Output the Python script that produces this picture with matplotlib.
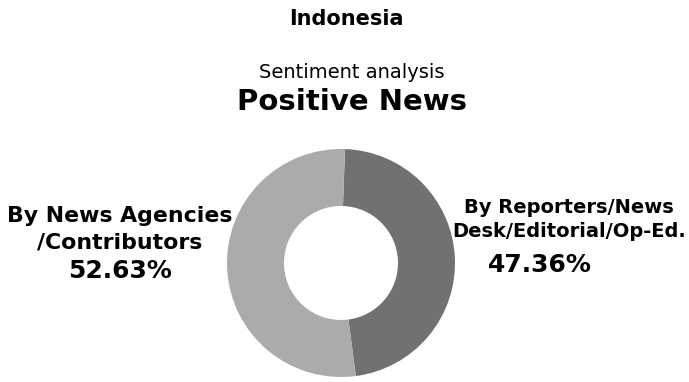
import matplotlib.pyplot as plt

# Share of positive news items by source
sources = ["By Reporters/News\nDesk/Editorial/Op-Ed.", "By News Agencies\n/Contributors"]
shares = [47.36, 52.63]
colors = ["#717171", "#ababab"]

W, H = 689, 382
fig = plt.figure(figsize=(W / 100, H / 100), dpi=100)
ax = fig.add_axes([0, 0, 1, 1])
ax.axis("off")

font = "DejaVu Sans"

ax.pie(shares, colors=colors, startangle=88, counterclock=False,
       radius=114, center=(341, H - 263),
       wedgeprops=dict(width=57, edgecolor="none"))
ax.set_xlim(0, W)
ax.set_ylim(0, H)
ax.set_aspect("equal")


def y(px):
    return H - px


ax.text(346, y(25), "Indonesia", ha="center", va="baseline",
        fontsize=15, fontweight="bold", family=font)
ax.text(352, y(78), "Sentiment analysis", ha="center", va="baseline",
        fontsize=14, family=font)
ax.text(352, y(110), "Positive News", ha="center", va="baseline",
        fontsize=21, fontweight="bold", family=font)

# Left label (news agencies)
left_lines = sources[1].split("\n")
ax.text(120, y(222), left_lines[0], ha="center", va="baseline",
        fontsize=15.8, fontweight="bold", family=font)
ax.text(120, y(249), left_lines[1], ha="center", va="baseline",
        fontsize=15.8, fontweight="bold", family=font)
ax.text(120, y(278), f"{shares[1]:.2f}%", ha="center", va="baseline",
        fontsize=18, fontweight="bold", family=font)

# Right label (reporters / desk)
right_lines = sources[0].split("\n")
ax.text(569, y(213), right_lines[0], ha="center", va="baseline",
        fontsize=14, fontweight="bold", family=font)
ax.text(569, y(237), right_lines[1], ha="center", va="baseline",
        fontsize=14, fontweight="bold", family=font)
ax.text(540, y(272), f"{shares[0]:.2f}%", ha="center", va="baseline",
        fontsize=18, fontweight="bold", family=font)

fig.savefig("out.png", dpi=100)
